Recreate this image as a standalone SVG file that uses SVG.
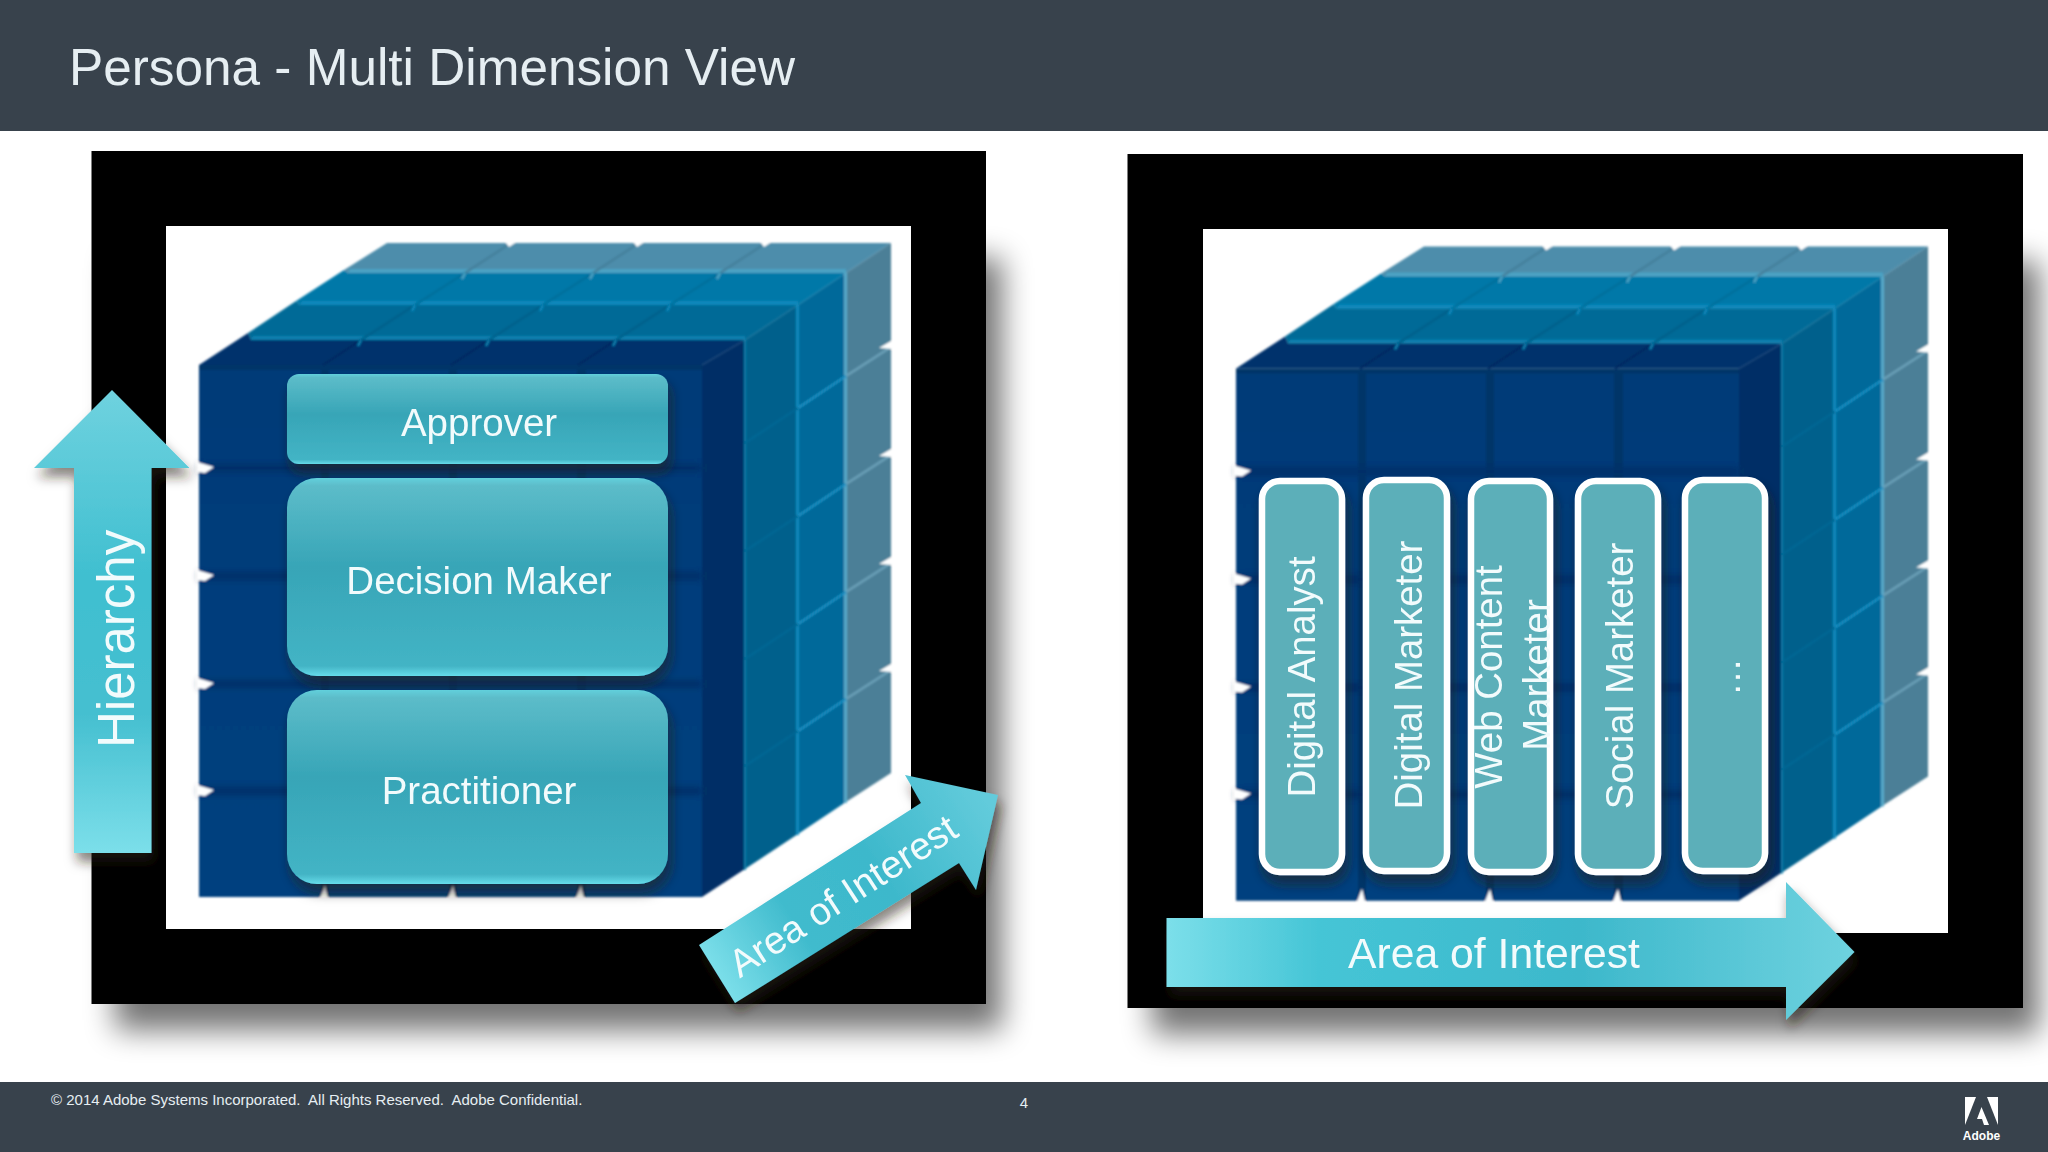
<svg xmlns="http://www.w3.org/2000/svg" xmlns:xlink="http://www.w3.org/1999/xlink" width="2048" height="1152" viewBox="0 0 2048 1152">
<style>
text{font-family:"Liberation Sans",Arial,sans-serif;fill:#f2fbfc;white-space:pre}
.bar{fill:#38424c}
.frame{fill:#000}
.inner{fill:#fff}
.lbl{font-size:38.5px;text-anchor:middle}
.pl{font-size:38.4px;text-anchor:middle}
.pillar{fill:#5bafb9;stroke:#fff;stroke-width:6.5}
.tick{fill:#fff}
</style>
<defs>
<linearGradient id="box" x1="0" y1="0" x2="0" y2="1">
<stop offset="0" stop-color="#62d0dc"/><stop offset=".04" stop-color="#5cbcc9"/><stop offset=".45" stop-color="#37a5b7"/><stop offset=".95" stop-color="#43b4c5"/><stop offset="1" stop-color="#66dcea"/>
</linearGradient>
<linearGradient id="vert" x1="0" y1="0" x2="0" y2="1">
<stop offset="0" stop-color="#6fd2df"/><stop offset=".4" stop-color="#40bfd0"/><stop offset=".7" stop-color="#45bfd0"/><stop offset="1" stop-color="#7cdfea"/>
</linearGradient>
<linearGradient id="horz" x1="0" y1="0" x2="1" y2="0">
<stop offset="0" stop-color="#7cdfea"/><stop offset=".22" stop-color="#45c5d6"/><stop offset=".6" stop-color="#3db8cb"/><stop offset="1" stop-color="#6ed2df"/>
</linearGradient>
<linearGradient id="diag" gradientUnits="userSpaceOnUse" x1="715" y1="975" x2="985" y2="800">
<stop offset="0" stop-color="#7cdfea"/><stop offset=".3" stop-color="#40bbcd"/><stop offset=".6" stop-color="#3db8cb"/><stop offset="1" stop-color="#62cbdb"/>
</linearGradient>
<linearGradient id="cell" x1="0" y1="0" x2="0" y2="1">
<stop offset="0" stop-color="#003a78"/><stop offset="1" stop-color="#00417f"/>
</linearGradient>
<filter id="blur" x="-10%" y="-10%" width="120%" height="120%"><feGaussianBlur stdDeviation="15"/></filter>
<filter id="soft" x="-2%" y="-2%" width="104%" height="104%"><feGaussianBlur stdDeviation="1"/></filter>
<filter id="softer" x="-2%" y="-5%" width="104%" height="110%"><feGaussianBlur stdDeviation="3"/></filter>
<filter id="ds" x="-20%" y="-20%" width="140%" height="140%"><feDropShadow dx="3" dy="9" stdDeviation="6" flood-color="#2a1c12" flood-opacity=".55"/></filter>
<g id="cube" filter="url(#soft)">
<polygon points="344,270 387,243 891,243 846,273 348,273" fill="#4d8dab"/>
<polygon points="846,273 891,243 891,773 846,802" fill="#4b7f97"/>
<polygon points="350,269 846,269 846,273 348,273" fill="#4ba3c4"/>
<polygon points="296,301 344,270 348,273 846,273 798,305 300,305" fill="#0078a8"/>
<polygon points="798,305 846,273 846,802 798,834" fill="#00699a"/>
<polygon points="302,301 798,301 798,305 300,305" fill="#0a88bc"/>
<rect x="844" y="273" width="3" height="530" fill="#57a9c9"/>
<polygon points="248,333 296,301 300,305 798,305 745,340 251,340" fill="#006a97"/>
<polygon points="745,340 798,305 798,834 745,869" fill="#00608c"/>
<polygon points="253,336 745,336 745,340 251,340" fill="#0a7fae"/>
<rect x="796" y="305" width="3" height="530" fill="#0a88bc"/>
<polygon points="199,365 248,333 251,340 745,340 702,365" fill="#00326c"/>
<polygon points="702,365 745,340 745,869 702,897" fill="#002f66"/>
<rect x="744" y="340" width="2" height="530" fill="#0a7aa8"/>
<rect x="199" y="365" width="503" height="532" fill="#003568"/>
<rect x="199" y="370" width="122" height="527" fill="url(#cell)"/>
<rect x="329" y="370" width="120" height="527" fill="url(#cell)"/>
<rect x="457" y="370" width="120" height="527" fill="url(#cell)"/>
<rect x="586" y="370" width="116" height="527" fill="url(#cell)"/>
<g fill="#002f68" filter="url(#softer)">
<rect x="199" y="464" width="503" height="8"/><rect x="199" y="572" width="503" height="8"/><rect x="199" y="680" width="503" height="8"/><rect x="199" y="787" width="503" height="8"/>
</g>
<g fill="none" stroke-width="2.5">
<path stroke="#44809c" d="M511 243L465 273M639 243L593 273M766 243L720 273"/>
<path stroke="#006f9c" d="M465 273L415 305M593 273L543 305M720 273L670 305"/>
<path stroke="#00618b" d="M415 305L361 340M543 305L489 340M670 305L616 340"/>
<path stroke="#002c62" d="M361 340L323 365M489 340L451 365M616 340L578 365"/>
<path stroke="#6aa0b8" d="M891 347L846 376M891 455L846 484M891 563L846 592M891 670L846 699"/>
<path stroke="#1b8fc2" d="M846 376L798 408M846 484L798 516M846 592L798 624M846 699L798 731"/>
<path stroke="#056794" d="M798 408L745 443M798 516L745 551M798 624L745 659M798 731L745 766"/>
<path stroke="#4ba3c4" d="M465 273L462 279M593 273L590 279M720 273L717 279"/>
<path stroke="#0a88bc" d="M415 305L412 311M543 305L540 311M670 305L667 311"/>
<path stroke="#0a7fae" d="M361 340L358 346M489 340L486 346M616 340L613 346"/>
</g>
<g class="tick">
<polygon points="506,243 511,237 515,243 509,247"/><polygon points="634,243 639,237 643,243 637,247"/><polygon points="761,243 766,237 770,243 764,247"/>
<polygon points="879,348 891,341 893,349"/><polygon points="879,456 891,449 893,457"/><polygon points="879,564 891,557 893,565"/><polygon points="879,671 891,664 893,672"/>
<polygon points="197,462 214,467 205,473 197,472"/><polygon points="197,570 214,575 205,581 197,580"/><polygon points="197,678 214,683 205,689 197,688"/><polygon points="197,785 214,790 205,796 197,795"/>
<polygon points="320,898 325,885 328,898"/><polygon points="448,898 453,885 456,898"/><polygon points="576,898 581,885 584,898"/>
</g>
</g>
</defs>

<g id="page">
<rect width="2048" height="1152" fill="#fff"/>
<rect class="bar" width="2048" height="131"/>
<rect class="bar" y="1082" width="2048" height="70"/>
<text id="title" x="69" y="85" font-size="51.3" style="fill:#e6eef2">Persona - Multi Dimension View</text>
<text id="copyright" x="51" y="1105" font-size="15" style="fill:#e6eef2">© 2014 Adobe Systems Incorporated.  All Rights Reserved.  Adobe Confidential.</text>
<text id="pagenum" x="1024" y="1108" font-size="15" text-anchor="middle" style="fill:#e6eef2">4</text>
<g id="logo" fill="#fff">
<polygon points="1965,1097 1976,1097 1965,1125"/><polygon points="1987,1097 1998,1097 1998,1125"/><polygon points="1981.5,1107 1989,1125 1984,1125 1982,1119 1977,1119"/>
<text x="1981.5" y="1140" font-size="12" font-weight="bold" text-anchor="middle" style="fill:#fff">Adobe</text>
</g>
</g>

<g id="panel-left">
<rect x="115" y="258" width="887" height="772" fill="#000" opacity=".55" filter="url(#blur)"/>
<rect class="frame" x="91.5" y="151" width="894.5" height="853"/>
<rect class="inner" x="166" y="226" width="745" height="703"/>
<use xlink:href="#cube" href="#cube"/>
</g>
<g id="node-approver" filter="url(#ds)"><rect x="287" y="374" width="381" height="90" rx="12" fill="url(#box)"/><text class="lbl" x="479" y="436">Approver</text></g>
<g id="node-decision-maker" filter="url(#ds)"><rect x="287" y="478" width="381" height="198" rx="30" fill="url(#box)"/><text class="lbl" x="479" y="594">Decision Maker</text></g>
<g id="node-practitioner" filter="url(#ds)"><rect x="287" y="690" width="381" height="194" rx="30" fill="url(#box)"/><text class="lbl" x="479" y="804">Practitioner</text></g>

<g id="panel-right">
<rect x="1152" y="261" width="887" height="773" fill="#000" opacity=".55" filter="url(#blur)"/>
<rect class="frame" x="1127.5" y="154" width="895.5" height="854"/>
<rect class="inner" x="1203" y="229" width="745" height="704"/>
<use xlink:href="#cube" href="#cube" transform="translate(1037,3.5)"/>
</g>
<g id="node-digital-analyst" filter="url(#ds)"><rect class="pillar" x="1262" y="481" width="80" height="391" rx="18"/><text class="pl" transform="translate(1315,677) rotate(-90)">Digital Analyst</text></g>
<g id="node-digital-marketer" filter="url(#ds)"><rect class="pillar" x="1366" y="480" width="81" height="391" rx="18"/><text class="pl" transform="translate(1422,675) rotate(-90)">Digital Marketer</text></g>
<g id="node-web-content-marketer" filter="url(#ds)"><rect class="pillar" x="1471" y="481" width="79" height="391" rx="18"/><text class="pl" transform="translate(1502,677) rotate(-90)">Web Content</text><text class="pl" transform="translate(1550,675) rotate(-90)">Marketer</text></g>
<g id="node-social-marketer" filter="url(#ds)"><rect class="pillar" x="1578" y="481" width="80" height="391" rx="18"/><text class="pl" transform="translate(1633,676) rotate(-90)">Social Marketer</text></g>
<g id="node-more" filter="url(#ds)"><rect class="pillar" x="1685" y="480" width="80" height="391" rx="18"/><text class="pl" transform="translate(1740,677) rotate(-90)">…</text></g>

<g id="connectors">
<g id="arrow-hierarchy" filter="url(#ds)"><polygon points="112,390 189.5,468 151.5,468 151.5,853 74,853 74,468 34,468" fill="url(#vert)"/><text transform="translate(134,748) rotate(-90)" font-size="51">Hierarchy</text></g>
<g id="arrow-area-left" filter="url(#ds)"><polygon points="699,945 921,803 905,775 998,795 976,890 959,863 735,1003" fill="url(#diag)"/><text transform="translate(843,896) rotate(-33)" y="13" font-size="38.5" text-anchor="middle">Area of Interest</text></g>
<g id="arrow-area-right" filter="url(#ds)"><polygon points="1166.5,918 1786,918 1786,882 1854.5,952 1786,1020 1786,987 1166.5,987" fill="url(#horz)"/><text x="1494" y="968" font-size="42.7" text-anchor="middle">Area of Interest</text></g>
</g>
</svg>
